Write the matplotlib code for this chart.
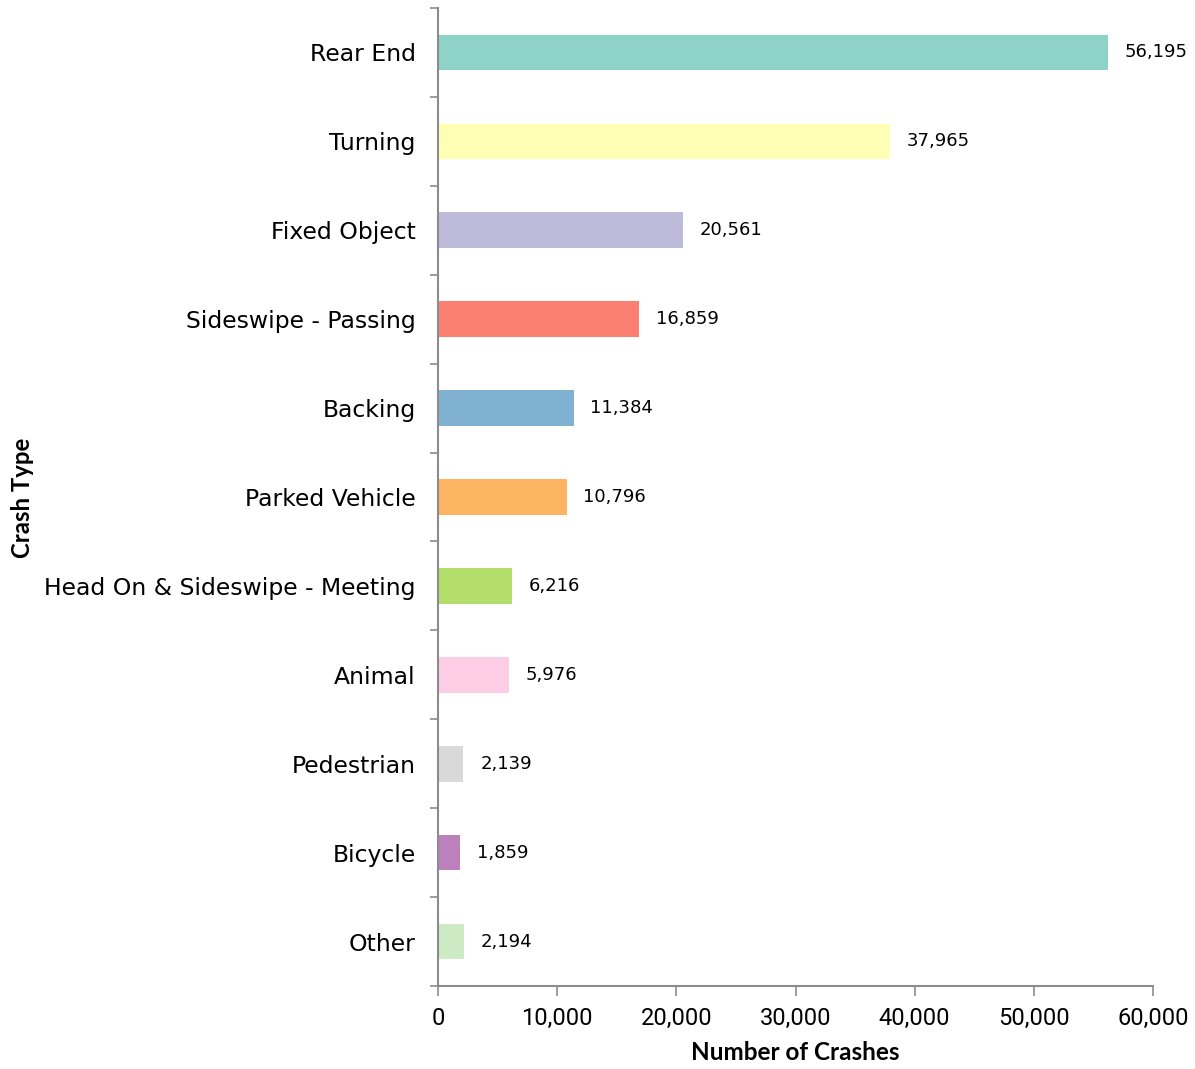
import matplotlib
matplotlib.use("Agg")
import matplotlib.pyplot as plt
from matplotlib.ticker import FuncFormatter, FixedLocator

# Crash counts by crash type (top to bottom)
crash_types = ["Rear End", "Turning", "Fixed Object", "Sideswipe - Passing", "Backing",
               "Parked Vehicle", "Head On & Sideswipe - Meeting", "Animal", "Pedestrian",
               "Bicycle", "Other"]
crash_counts = [56195, 37965, 20561, 16859, 11384, 10796, 6216, 5976, 2139, 1859, 2194]
bar_colors = ["#8DD3C7", "#FFFFB3", "#BEBADA", "#FB8072", "#80B1D3", "#FDB462",
              "#B3DE69", "#FCCDE5", "#D9D9D9", "#BC80BD", "#CCEBC5"]
x_ticks = [0, 10000, 20000, 30000, 40000, 50000, 60000]

label_font = "DejaVu Sans"
tick_font = "Roboto"
title_font = "Lato"
axis_gray = "#8c8c8c"

fig = plt.figure(figsize=(11.95, 10.69), dpi=100)
ax = fig.add_axes([438 / 1195, 1 - 986 / 1069, (1153 - 438) / 1195, (986 - 8) / 1069])

n = len(crash_types)
positions = list(range(n))
ax.barh(positions, crash_counts, height=0.4, color=bar_colors, zorder=2)

ax.set_xlim(0, 60000)
ax.set_ylim(n - 0.5, -0.5)

# value labels at the end of each bar
for y, v in zip(positions, crash_counts):
    ax.annotate(f"{v:,}", xy=(v, y), xytext=(12, 0), textcoords="offset points",
                ha="left", va="center", fontsize=13, family=label_font, color="#000000")

# category labels without tick marks, boundary ticks as minor ticks
ax.set_yticks(positions)
ax.set_yticklabels(crash_types, fontsize=16.9, family=label_font)
ax.yaxis.set_minor_locator(FixedLocator([i - 0.5 for i in range(n + 1)]))
ax.tick_params(axis="y", which="major", length=0, pad=16)
ax.tick_params(axis="y", which="minor", length=6, width=1.2, color=axis_gray)

ax.set_xticks(x_ticks)
ax.xaxis.set_major_formatter(FuncFormatter(lambda v, p: f"{int(v):,}"))
ax.tick_params(axis="x", which="major", length=7, width=1.2, color=axis_gray, pad=8)
for lab in ax.get_xticklabels():
    lab.set_fontsize(17)
    lab.set_family(tick_font)

for side in ("top", "right"):
    ax.spines[side].set_visible(False)
for side in ("left", "bottom"):
    ax.spines[side].set_color(axis_gray)
    ax.spines[side].set_linewidth(1.5)

ax.set_xlabel("Number of Crashes", fontsize=17.5, fontweight="bold", family=title_font, labelpad=8)
fig.text(22 / 1195, 1 - 498 / 1069, "Crash Type", rotation=90, ha="center", va="center",
         fontsize=17.2, fontweight="bold", family=title_font)

fig.savefig("out.png", dpi=100, facecolor="white")
